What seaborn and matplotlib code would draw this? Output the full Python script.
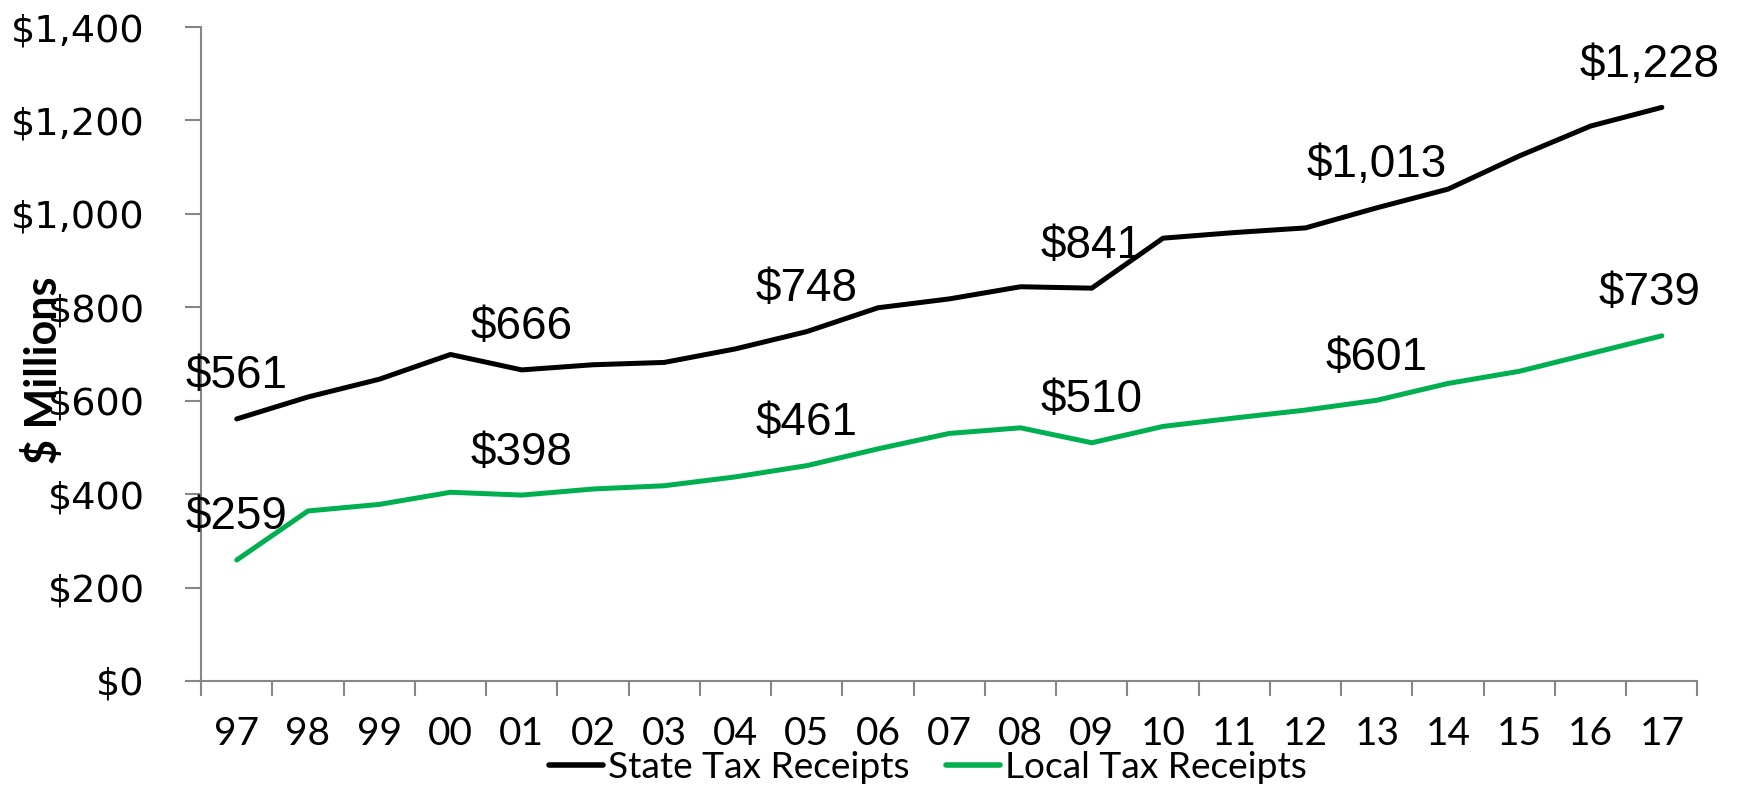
import numpy as np
import pandas as pd
import matplotlib
matplotlib.use("Agg")
import matplotlib.pyplot as plt
import seaborn as sns

# ── Data ──────────────────────────────────────────────────────────────────────
years = ["97", "98", "99", "00", "01", "02", "03", "04", "05", "06", "07",
         "08", "09", "10", "11", "12", "13", "14", "15", "16", "17"]
state_tax = [561, 608, 646, 699, 666, 677, 682, 711, 748, 799, 818,
             844, 841, 948, 960, 970, 1013, 1053, 1124, 1188, 1228]
local_tax = [259, 364, 378, 404, 398, 411, 418, 437, 461, 497, 530,
             542, 510, 545, 563, 580, 601, 637, 663, 701, 739]
label_idx = [0, 4, 8, 12, 16, 20]

GREEN = "#00B050"
AXIS_GRAY = "#868686"

sns.set_theme(style="white")
plt.rcParams["font.family"] = ["DejaVu Sans"]
plt.rcParams.update({"text.color": "black", "xtick.color": "black",
                     "ytick.color": "black", "axes.labelcolor": "black"})

df = pd.DataFrame({
    "x": list(range(len(years))) * 2,
    "value": state_tax + local_tax,
    "series": ["State Tax Receipts"] * len(years) + ["Local Tax Receipts"] * len(years),
})

fig = plt.figure(figsize=(17.41, 7.86), dpi=100)
ax = fig.add_axes([0.1155, 0.1336, 0.8595, 0.832])

sns.lineplot(data=df, x="x", y="value", hue="series",
             palette={"State Tax Receipts": "black", "Local Tax Receipts": GREEN},
             linewidth=3.6, ax=ax, legend=False)

# data labels every 4 years
for series in (state_tax, local_tax):
    for i in label_idx:
        dx = -9 if i == len(years) - 1 else 0
        ax.annotate(f"${series[i]:,}", (i, series[i]), xytext=(dx, 22),
                    textcoords="offset points", ha="center", va="baseline",
                    fontsize=33, color="black", family="Liberation Sans")

ax.set_xlim(-0.5, len(years) - 0.5)
ax.set_ylim(0, 1400)
ax.set_yticks(np.arange(0, 1401, 200))
ax.set_yticklabels([f"${v:,}" for v in range(0, 1401, 200)], fontsize=27.5)

# category axis: ticks between categories, labels at centers
ax.set_xticks(np.arange(-0.5, len(years), 1.0))
ax.set_xticklabels([])
ax.set_xticks(np.arange(len(years)), minor=True)
ax.set_xticklabels(years, minor=True, fontsize=28, family="Lato")
ax.tick_params(axis="x", which="major", length=11, width=1.5, color=AXIS_GRAY,
               direction="out", bottom=True)
ax.tick_params(axis="x", which="minor", length=0, pad=25)
ax.tick_params(axis="y", length=11.5, width=1.5, color=AXIS_GRAY, direction="out",
               left=True, pad=29)

for side in ["top", "right"]:
    ax.spines[side].set_visible(False)
for side in ["left", "bottom"]:
    ax.spines[side].set_color(AXIS_GRAY)
    ax.spines[side].set_linewidth(1.5)

ax.set_xlabel("")
ax.set_ylabel("$ Millions", fontsize=31, fontweight="bold", family="Lato")
ax.yaxis.set_label_coords(-0.0916, 0.475)

handles = [plt.Line2D([], [], color="black", linewidth=4),
           plt.Line2D([], [], color=GREEN, linewidth=4)]
fig.legend(handles, ["State Tax Receipts", "Local Tax Receipts"],
           loc="center", bbox_to_anchor=(0.533, 0.024), ncol=2, frameon=False,
           handlelength=1.45, handletextpad=0.12, columnspacing=1.0,
           borderpad=0, borderaxespad=0,
           prop={"family": "Lato", "size": 26.7})

fig.savefig("out.png", dpi=100, facecolor="white")
